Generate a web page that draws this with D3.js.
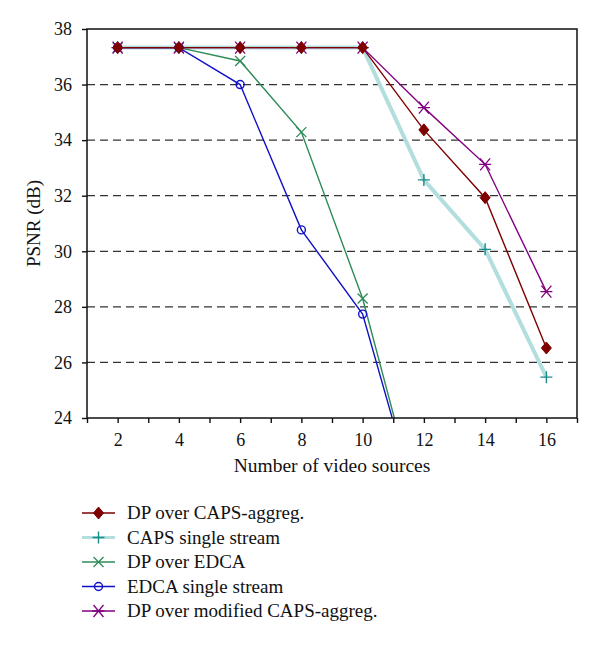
<!DOCTYPE html>
<html><head><meta charset="utf-8">
<script src="https://cdn.jsdelivr.net/npm/d3@7"></script>
<style>body{margin:0;background:#fff;} svg{display:block;}</style>
</head><body>
<script>
const xValues = [2, 4, 6, 8, 10, 12, 14, 16];
const dpCaps = [37.33, 37.33, 37.33, 37.33, 37.33, 34.37, 31.93, 26.52];
const capsSingle = [37.33, 37.33, 37.33, 37.33, 37.33, 32.57, 30.07, 25.47];
const dpEdca = [37.33, 37.33, 36.85, 34.29, 28.3, 20.0, 20.0, 20.0];
const edcaSingle = [37.33, 37.33, 36.0, 30.77, 27.74, 20.0, 20.0, 20.0];
const dpModCaps = [37.33, 37.33, 37.33, 37.33, 37.33, 35.17, 33.13, 28.55];
const seriesNames = ["DP over CAPS-aggreg.", "CAPS single stream", "DP over EDCA", "EDCA single stream", "DP over modified CAPS-aggreg."];
const yTicks = [24, 26, 28, 30, 32, 34, 36, 38];
const xTickLabels = [2, 4, 6, 8, 10, 12, 14, 16];

const FONT = "'Liberation Serif', 'Times New Roman', Times, serif";
const W = 600, H = 645;
const m = {l: 87, r: 23, t: 29, b: 227};
const svg = d3.select("body").append("svg").attr("width", W).attr("height", H);
const x = d3.scaleLinear().domain([1, 17]).range([m.l, W - m.r]);
const y = d3.scaleLinear().domain([24, 38]).range([H - m.b, m.t]);

// grid
svg.append("g").selectAll("line").data(yTicks.filter(d => d > 24 && d < 38)).join("line")
  .attr("x1", x(1)).attr("x2", x(17)).attr("y1", d => y(d)).attr("y2", d => y(d))
  .attr("stroke", "#333").attr("stroke-width", 1.3).attr("stroke-dasharray", "8,5");

svg.append("defs").append("clipPath").attr("id", "clip").append("rect")
  .attr("x", x(1)).attr("y", y(38)).attr("width", x(17) - x(1)).attr("height", y(24) - y(38));

const series = [
  {name: seriesNames[0], vals: dpCaps, color: "#7f0000", marker: "diamond", width: 1.4},
  {name: seriesNames[1], vals: capsSingle, color: "#b3dede", mcolor: "#1a8c8c", marker: "plus", width: 4},
  {name: seriesNames[2], vals: dpEdca, color: "#2e8b57", marker: "x", width: 1.4},
  {name: seriesNames[3], vals: edcaSingle, color: "#1010c8", marker: "circle", width: 1.4},
  {name: seriesNames[4], vals: dpModCaps, color: "#800080", marker: "star", width: 1.4}
];
const drawOrder = [1, 2, 3, 4, 0];

function marker(g, type, cx, cy, color) {
  if (type === "diamond") {
    g.append("path").attr("d", `M${cx},${cy-6}L${cx+5},${cy}L${cx},${cy+6}L${cx-5},${cy}Z`).attr("fill", color).attr("stroke", color);
  } else if (type === "plus") {
    g.append("path").attr("d", `M${cx-6},${cy}H${cx+6}M${cx},${cy-6}V${cy+6}`).attr("stroke", color).attr("stroke-width", 1.4).attr("fill", "none");
  } else if (type === "x") {
    g.append("path").attr("d", `M${cx-5},${cy-5}L${cx+5},${cy+5}M${cx-5},${cy+5}L${cx+5},${cy-5}`).attr("stroke", color).attr("stroke-width", 1.3).attr("fill", "none");
  } else if (type === "circle") {
    g.append("circle").attr("cx", cx).attr("cy", cy).attr("r", 4).attr("fill", "none").attr("stroke", color).attr("stroke-width", 1.4);
  } else if (type === "star") {
    g.append("path").attr("d", `M${cx-5},${cy-6}L${cx+5},${cy+6}M${cx-5},${cy+6}L${cx+5},${cy-6}M${cx-6},${cy}H${cx+6}`).attr("stroke", color).attr("stroke-width", 1.3).attr("fill", "none");
  }
}

const plot = svg.append("g").attr("clip-path", "url(#clip)");
drawOrder.forEach(i => {
  const s = series[i];
  const pts = xValues.map((xv, j) => [xv, s.vals[j]]);
  const line = d3.line().x(d => x(d[0])).y(d => y(d[1]));
  plot.append("path").attr("d", line(pts)).attr("fill", "none").attr("stroke", s.color).attr("stroke-width", s.width);
});
drawOrder.forEach(i => {
  const s = series[i];
  xValues.forEach((xv, j) => {
    const v = s.vals[j];
    if (v >= 24 && v <= 38) marker(plot, s.marker, x(xv), y(v), s.mcolor || s.color);
  });
});

// frame
svg.append("rect").attr("x", x(1)).attr("y", y(38)).attr("width", x(17) - x(1)).attr("height", y(24) - y(38))
  .attr("fill", "none").attr("stroke", "#111").attr("stroke-width", 1.5);

// axes
const xAxis = d3.axisBottom(x).tickValues(d3.range(1, 18)).tickSize(5)
  .tickFormat(d => xTickLabels.includes(d) ? d : "");
const gx = svg.append("g").attr("transform", `translate(0,${y(24)})`).call(xAxis);
gx.select(".domain").remove();
gx.selectAll("line").attr("stroke", "#111").attr("stroke-width", 1.4);

const yAxis = d3.axisLeft(y).tickValues(yTicks).tickSize(5).tickPadding(10);
const gy = svg.append("g").attr("transform", `translate(${x(1)},0)`).call(yAxis);
gy.select(".domain").remove();
gy.selectAll("line").attr("stroke", "#111").attr("stroke-width", 1.4);

const xt = svg.append("text").attr("x", (x(1) + x(17)) / 2).attr("y", 472).attr("text-anchor", "middle")
  .text("Number of video sources");
const yt = svg.append("text").attr("transform", `translate(40,${(y(24) + y(38)) / 2}) rotate(-90)`).attr("text-anchor", "middle")
  .text("PSNR (dB)");

// legend
const lg = svg.append("g");
series.forEach((s, i) => {
  const ly = 513 + i * 24.5;
  lg.append("line").attr("x1", 82).attr("x2", 115).attr("y1", ly).attr("y2", ly).attr("stroke", s.color).attr("stroke-width", i === 1 ? 3 : 1.4);
  marker(lg, s.marker, 98.5, ly, s.mcolor || s.color);
  lg.append("text").attr("class", "leg").attr("x", 127).attr("y", ly + 6).text(s.name);
});

svg.selectAll("text").style("font-family", FONT).style("font-size", "19px").style("fill", "#111");
gx.selectAll("text").style("font-size", "18px").attr("dy", "1.1em");
gy.selectAll("text").style("font-size", "18px");
xt.style("font-size", "19.5px");
yt.style("font-size", "19px");
</script>
</body></html>
